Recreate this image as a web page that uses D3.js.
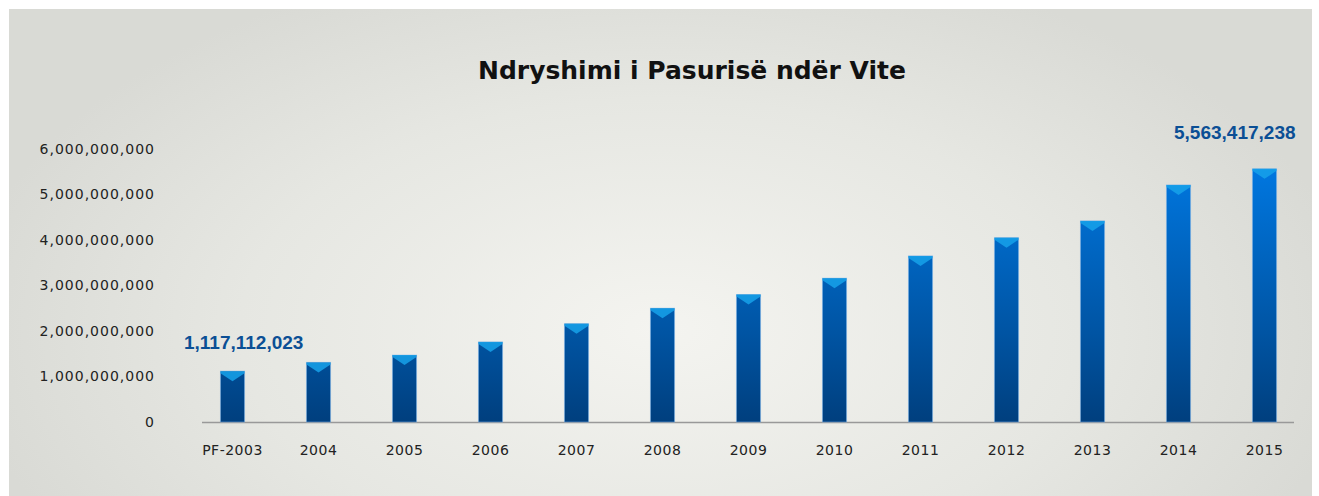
<!DOCTYPE html>
<html>
<head>
<meta charset="utf-8">
<script src="https://cdn.jsdelivr.net/npm/d3@7/dist/d3.min.js"></script>
<style>
  body { margin: 0; background: #fff; }
</style>
</head>
<body>
<script>
var svgWidth = 1319;
var svgHeight = 496;

// chart data
var categories = ["PF-2003", "2004", "2005", "2006", "2007", "2008", "2009",
                  "2010", "2011", "2012", "2013", "2014", "2015"];
var values = [1117112023, 1310000000, 1470000000, 1760000000, 2160000000, 2500000000,
              2800000000, 3160000000, 3650000000, 4050000000, 4420000000, 5210000000,
              5563417238];
var yTicks = [0, 1e9, 2e9, 3e9, 4e9, 5e9, 6e9];
var title = "Ndryshimi i Pasurisë ndër Vite";

var svg = d3.select("body")
            .append("svg")
            .attr("width", svgWidth)
            .attr("height", svgHeight)
            .style("font-family", "'DejaVu Sans', sans-serif");

var defs = svg.append("defs");

// soft radial background
var bg = defs.append("radialGradient")
             .attr("id", "bg")
             .attr("gradientUnits", "userSpaceOnUse")
             .attr("cx", 660).attr("cy", 330).attr("r", 700)
             .attr("gradientTransform", "translate(660,330) scale(1,0.55) translate(-660,-330)");
bg.append("stop").attr("offset", "0").attr("stop-color", "#f4f4f0");
bg.append("stop").attr("offset", "0.6").attr("stop-color", "#e6e7e2");
bg.append("stop").attr("offset", "1").attr("stop-color", "#d9dad5");

svg.append("rect")
   .attr("x", 9).attr("y", 9)
   .attr("width", 1303).attr("height", 487)
   .attr("fill", "url(#bg)");

// scales
var x = d3.scaleBand()
          .domain(categories)
          .range([189.5, 1307.5])
          .paddingInner(0.72)
          .paddingOuter(0.36);

var y = d3.scaleLinear()
          .domain([0, 6e9])
          .range([422, 149]);

// bar gradient spans the whole plot height so short bars stay darker
var barGrad = defs.append("linearGradient")
                  .attr("id", "barGrad")
                  .attr("gradientUnits", "userSpaceOnUse")
                  .attr("x1", 0).attr("x2", 0)
                  .attr("y1", y(0)).attr("y2", y(5.6e9));
barGrad.append("stop").attr("offset", "0").attr("stop-color", "#003f7e");
barGrad.append("stop").attr("offset", "0.35").attr("stop-color", "#0054a3");
barGrad.append("stop").attr("offset", "1").attr("stop-color", "#0077e0");

// title
svg.append("text")
   .attr("x", 692)
   .attr("y", 79)
   .attr("text-anchor", "middle")
   .style("font-size", "25px")
   .style("font-weight", "bold")
   .attr("fill", "#111")
   .text(title);

// y axis labels
var yAxis = svg.append("g")
               .attr("transform", "translate(155,0)")
               .call(d3.axisLeft(y).tickValues(yTicks).tickSize(0).tickPadding(0)
                       .tickFormat(d3.format(",")));
yAxis.select(".domain").remove();
yAxis.attr("font-family", null).attr("font-size", null);
yAxis.selectAll("text")
     .style("font-size", "14px")
     .style("letter-spacing", "1px")
     .attr("fill", "#222");

// baseline
svg.append("line")
   .attr("x1", 202).attr("x2", 1294)
   .attr("y1", y(0) + 0.5).attr("y2", y(0) + 0.5)
   .attr("stroke", "#999")
   .attr("stroke-width", 1.5);

// x axis labels
var xAxis = svg.append("g")
               .attr("transform", `translate(0, ${y(0)})`)
               .call(d3.axisBottom(x).tickSize(0).tickPadding(23));
xAxis.select(".domain").remove();
xAxis.attr("font-family", null).attr("font-size", null);
xAxis.selectAll("text")
     .style("font-size", "14px")
     .style("letter-spacing", "0.5px")
     .attr("fill", "#222");

// bars
var bars = svg.append("g").selectAll("g.bar")
              .data(categories)
              .enter()
              .append("g")
              .classed("bar", true);

bars.append("rect")
    .attr("x", d => x(d))
    .attr("y", (d, i) => y(values[i]))
    .attr("width", x.bandwidth())
    .attr("height", (d, i) => y(0) - y(values[i]))
    .attr("fill", "url(#barGrad)")
    .attr("stroke", "rgba(120,175,230,0.55)")
    .attr("stroke-width", 1);

// chevron cap on each bar
bars.append("path")
    .attr("d", function(d, i) {
      var x0 = x(d), x1 = x(d) + x.bandwidth(), cx = x(d) + x.bandwidth() / 2;
      var t = y(values[i]);
      return `M${x0},${t} L${x1},${t} L${x1},${t + 2} L${cx},${t + 10} L${x0},${t + 2} Z`;
    })
    .attr("fill", "#16a2ea")
    .attr("opacity", 0.85);

// value labels for first and last bar
var first = 0, last = categories.length - 1;
svg.append("text")
   .attr("x", x(categories[first]) - 36.5)
   .attr("y", 349)
   .style("font-family", "'Liberation Sans', sans-serif")
   .style("font-size", "19px")
   .style("font-weight", "bold")
   .attr("fill", "#0b4f95")
   .text(d3.format(",")(values[first]));

svg.append("text")
   .attr("x", x(categories[last]) + x.bandwidth() + 19)
   .attr("y", 139)
   .attr("text-anchor", "end")
   .style("font-family", "'Liberation Sans', sans-serif")
   .style("font-size", "19px")
   .style("font-weight", "bold")
   .attr("fill", "#0b4f95")
   .text(d3.format(",")(values[last]));
</script>
</body>
</html>
